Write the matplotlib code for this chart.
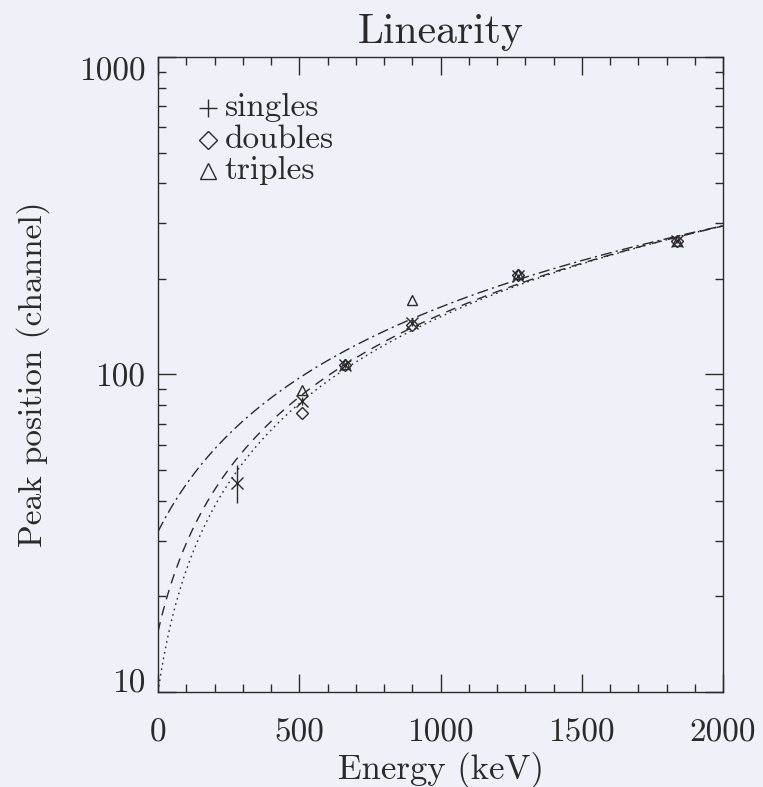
import numpy as np
import matplotlib
matplotlib.use("Agg")
import matplotlib.pyplot as plt
from matplotlib.ticker import MultipleLocator, FixedLocator, LogLocator, NullFormatter

plt.rcParams['font.family'] = ['cmr10', 'DejaVu Serif']
plt.rcParams['axes.formatter.use_mathtext'] = True

# ---- data ----
singles_E = [280, 511, 662, 898, 1275, 1836]
singles_ch = [45.5, 82.6, 107, 145, 204, 263]
singles_lo = [39.4, 80.0, 105, 142, 200, 259]
singles_hi = [51.9, 85.0, 109, 148, 208, 267]

doubles_E = [511, 662, 898, 1275, 1836]
doubles_ch = [75.7, 107, 143, 206, 263]

triples_E = [511, 662, 898, 1275, 1836]
triples_ch = [89.3, 108, 172, 208, 264]

# linear fits: channel = offset + slope * E
fit_offsets = [32.0, 15.5, 10.0]
fit_slopes = [0.131, 0.139, 0.142]
fit_styles = [(0, (8, 3, 1.5, 3)), (0, (7, 5)), (0, (1.2, 2.8))]

x_ticks = [0, 500, 1000, 1500, 2000]
y_ticks = [10, 100, 1000]

legend_labels = ['singles', 'doubles', 'triples']

ink = '#2a2a2a'
paper = '#eef2f8'

fig = plt.figure(figsize=(7.63, 7.87), dpi=100, facecolor=paper)
ax = fig.add_axes([0.2071, 0.1207, 0.7405, 0.8069])
ax.set_facecolor(paper)

E = np.linspace(0, 2000, 400)
for a, b, ls in zip(fit_offsets, fit_slopes, fit_styles):
    ax.plot(E, a + b * E, color=ink, lw=1.0, linestyle=ls)

s_err = [np.array(singles_ch) - np.array(singles_lo), np.array(singles_hi) - np.array(singles_ch)]
ax.errorbar(singles_E, singles_ch, yerr=s_err, fmt='x', color=ink, ms=8, mew=1.0,
            elinewidth=1.0, capsize=0)
ax.plot(doubles_E, doubles_ch, 'D', mfc='none', mec=ink, ms=6, mew=1.0, ls='none')
ax.plot(triples_E, triples_ch, '^', mfc='none', mec=ink, ms=7, mew=1.0, ls='none')

ax.set_yscale('log')
ax.set_xlim(0, 2000)
ax.set_ylim(10, 1000)
ax.xaxis.set_major_locator(FixedLocator(x_ticks))
ax.xaxis.set_minor_locator(MultipleLocator(100))
ax.yaxis.set_major_locator(FixedLocator(y_ticks))
ax.yaxis.set_minor_locator(LogLocator(base=10, subs=np.arange(2, 10)))
ax.yaxis.set_minor_formatter(NullFormatter())
ax.set_xticklabels([str(v) for v in x_ticks])
ax.set_yticklabels([str(v) for v in y_ticks])

ax.tick_params(which='both', direction='in', top=True, right=True, color=ink,
               labelsize=24, labelcolor=ink, width=1.0)
ax.tick_params(which='major', length=13)
ax.tick_params(which='minor', length=6)
ax.tick_params(axis='x', which='major', pad=19)
ax.tick_params(axis='y', which='major', pad=9)
ylabs = ax.get_yticklabels()
ylabs[0].set_va('baseline')
ylabs[-1].set_va('top')
for sp in ax.spines.values():
    sp.set_color(ink)
    sp.set_linewidth(1.0)

ax.set_title('Linearity', fontsize=30, color=ink, pad=10)
ax.set_xlabel('Energy (keV)', fontsize=25, color=ink, labelpad=3)
ax.set_ylabel('Peak position (channel)', fontsize=24, color=ink, labelpad=21)

# legend drawn in axes coordinates
leg_x_marker = 0.089
leg_x_text = 0.118
leg_rows = [0.920, 0.870, 0.821]
leg_markers = [dict(marker='+', ms=13, mfc=ink),
               dict(marker='D', ms=9, mfc='none'),
               dict(marker='^', ms=11, mfc='none')]
for lab, yy, mk in zip(legend_labels, leg_rows, leg_markers):
    ax.plot([leg_x_marker], [yy], transform=ax.transAxes, ls='none', mec=ink,
            mew=1.0, color=ink, **mk)
    ax.text(leg_x_text, yy, lab, transform=ax.transAxes, fontsize=24, color=ink,
            ha='left', va='center')

fig.savefig('out.png', dpi=100, facecolor=paper)
